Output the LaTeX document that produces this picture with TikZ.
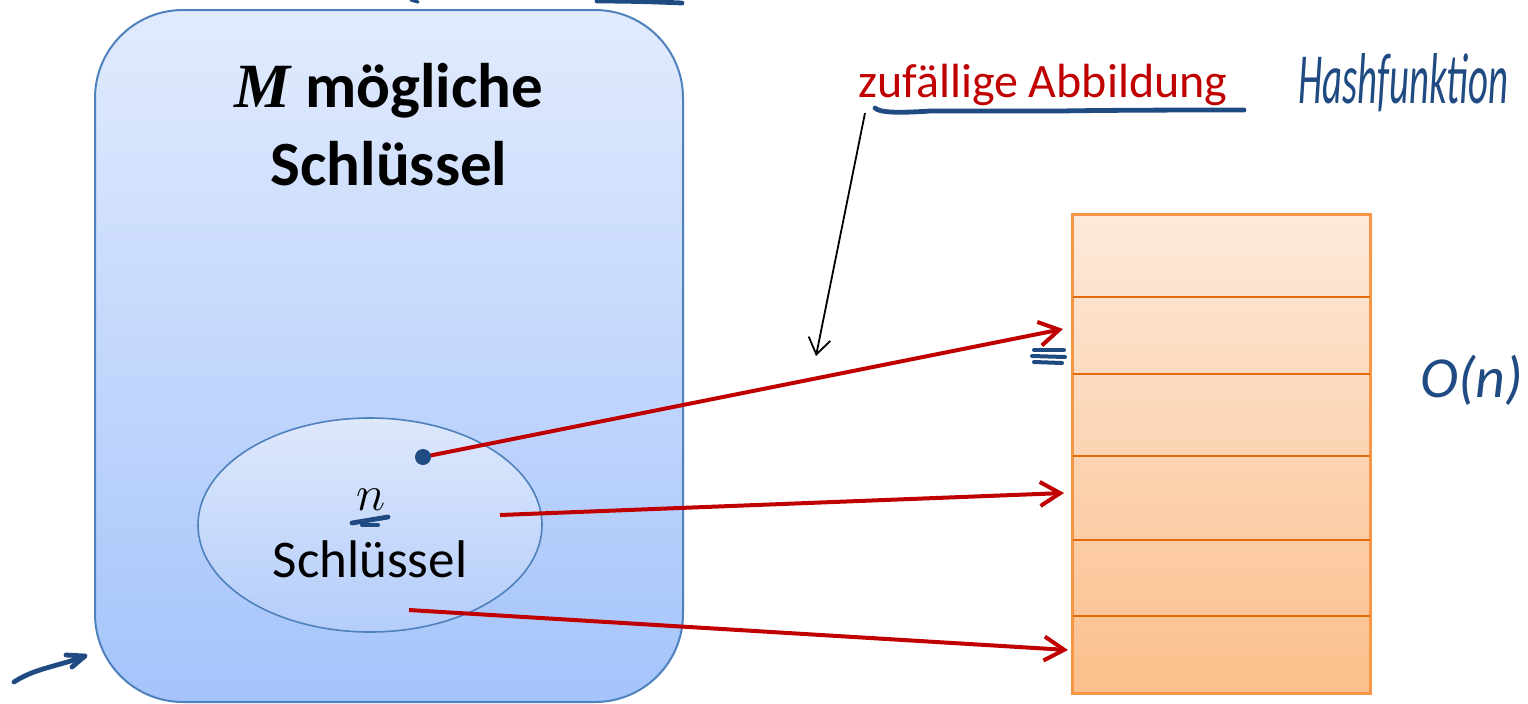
\documentclass[tikz,border=0pt]{standalone}
\usepackage{fontspec}
\setmainfont{Carlito}
\newfontfamily\varfont{Liberation Serif}
\usepackage{graphicx}
\usetikzlibrary{arrows.meta,shapes.geometric}
\definecolor{ink}{HTML}{1F4A82}
\definecolor{keyblue}{HTML}{4F81BD}
\definecolor{mapred}{HTML}{C00000}
\definecolor{slotedge}{HTML}{F79646}
\definecolor{slotline}{HTML}{E36C09}
\definecolor{uTop}{HTML}{E1EBFD}
\definecolor{uBot}{HTML}{A5C4FB}
\definecolor{sTop}{HTML}{DEE8FC}
\definecolor{sBot}{HTML}{B4CDFA}
\definecolor{tTop}{HTML}{FDE9DA}
\definecolor{tBot}{HTML}{FBBF8B}
\tikzset{
  universe/.style={draw=keyblue, line width=1pt, rounded corners=44pt,
    top color=uTop, bottom color=uBot,
    minimum width=294pt, minimum height=346pt, inner sep=0pt},
  subset/.style={ellipse, draw=keyblue, line width=0.8pt,
    top color=sTop, bottom color=sBot,
    minimum width=172pt, minimum height=107pt, inner sep=0pt},
  slots/.style={draw=slotedge, line width=1pt,
    top color=tTop, bottom color=tBot,
    minimum width=148.5pt, minimum height=239pt, inner sep=0pt},
  slotsep/.style={slotline, line width=1.4pt},
  maparrow/.style={mapred, line width=2pt,
    -{Straight Barb[length=10pt,width=12pt,line width=2pt]}},
  notearrow/.style={black, line width=0.9pt,
    -{Straight Barb[length=8pt,width=11pt,line width=0.9pt]}},
  pen/.style={ink, line width=2.4pt, line cap=round, line join=round},
}
\begin{document}
\begin{tikzpicture}[x=0.5pt,y=-0.5pt]
\useasboundingbox (0,0) rectangle (1528,703);

% set of all possible keys
\node[universe] (U) at (389,356) {};
\node[font=\bfseries\fontsize{31.5}{38}\selectfont, anchor=base] (t1) at (389,107)
  {{\varfont\itshape M} mögliche};
\node[font=\bfseries\fontsize{31.5}{38}\selectfont, anchor=base] (t2) at (389,185)
  {Schlüssel};

% the n keys actually stored
\node[subset] (S) at (370,525) {};
\node[font=\fontsize{26.5}{32}\selectfont, anchor=base] (nn) at (371,510) {$n$};
\node[font=\fontsize{26.5}{32}\selectfont, anchor=base] (sk) at (370,577) {Schlüssel};

% hash table with six slots
\node[slots] (T) at (1221.5,454) {};
\draw[slotsep] (1073,297) -- (1370,297);
\draw[slotsep] (1073,374) -- (1370,374);
\draw[slotsep] (1073,456) -- (1370,456);
\draw[slotsep] (1073,540) -- (1370,540);
\draw[slotsep] (1073,616) -- (1370,616);
\draw[slotedge, line width=1pt] (T.north west) rectangle (T.south east);

% keys and their slots
\coordinate (k1) at (423,457);
\coordinate (k2) at (500,515);
\coordinate (k3) at (409,610);
\coordinate (s2) at (1063,329);
\coordinate (s4) at (1064,493);
\coordinate (s6) at (1068,650);
\draw[maparrow] (k1) -- (s2);
\draw[maparrow] (k2) -- (s4);
\draw[maparrow] (k3) -- (s6);

% label of the mapping
\node[font=\fontsize{24}{29}\selectfont, text=mapred, anchor=base west, inner sep=0pt]
  (lbl) at (858,97) {zufällige Abbildung};
\coordinate (lblfoot) at (865,113);
\coordinate (lbltip) at (816,356);
\draw[notearrow] (lblfoot) -- (lbltip);

% pen annotations
\fill[ink] (k1) circle (8);
\draw[pen] (875,108) .. controls (880,113) and (900,113) .. (930,111)
  -- (1060,111) .. controls (1120,110) and (1200,110) .. (1244,110);
\draw[pen] (352,523) -- (388,517);
\draw[pen, line width=2pt] (362,525) -- (378,525);
\draw[pen, line width=2pt] (1034,350) -- (1064,350);
\draw[pen, line width=2pt] (1032,356) -- (1065,357);
\draw[pen, line width=2pt] (1034,362) -- (1062,363);
\draw[pen] (597,1) .. controls (630,1) and (660,2) .. (682,3);
\draw[pen, line width=1.6pt] (411,0) -- (418,2);
\coordinate (pa) at (14,682);
\coordinate (pb) at (85,656);
\draw[pen] (pa) .. controls (35,668) and (60,666) .. (pb);
\draw[pen] (66,655) -- (pb) -- (72,667);
\node[font=\itshape\fontsize{20}{24}\selectfont, text=ink, anchor=base west, inner sep=0pt]
  (hf) at (1298,103) {\resizebox{105pt}{25pt}{Hashfunktion}};
\node[font=\itshape\fontsize{29}{34}\selectfont, text=ink, anchor=base west, inner sep=0pt]
  (on) at (1420,397) {O(n)};
\end{tikzpicture}
\end{document}
